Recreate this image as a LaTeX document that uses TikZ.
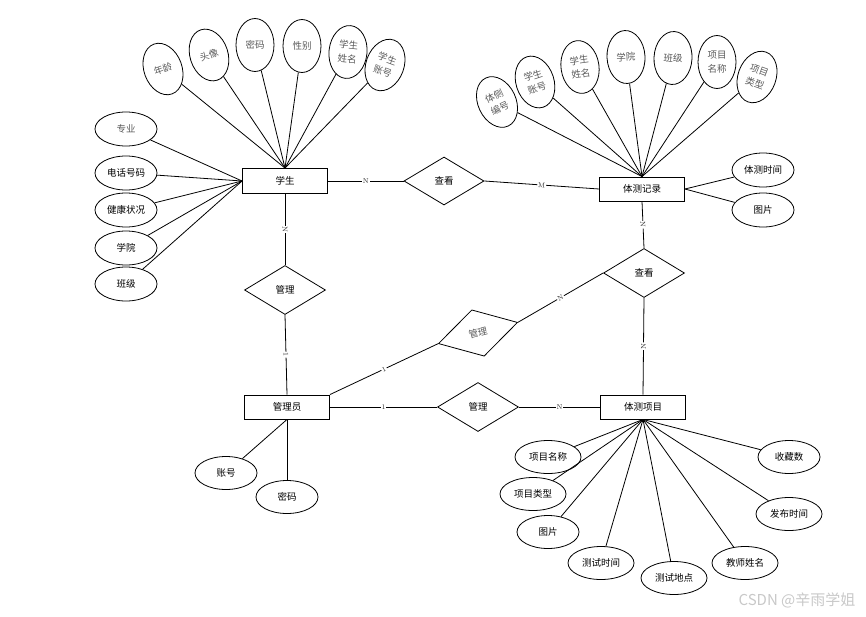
\documentclass[tikz,border=0pt]{standalone}
\usepackage{fontspec}
\newfontfamily\cjk{Noto Sans CJK SC}
\definecolor{AttrGray}{RGB}{90, 90, 90}
\definecolor{MarkGray}{RGB}{40, 40, 40}
\definecolor{WaterGray}{RGB}{200, 200, 200}
\usetikzlibrary{shapes.geometric, positioning}

\begin{document}
\begin{tikzpicture}[x=1pt, y=-1pt,
    entity/.style={draw, line width=0.9pt, rectangle, minimum width=85, minimum height=25, inner sep=0, font=\cjk\fontsize{9.5}{11}\selectfont},
    relation/.style={draw, line width=0.8pt, diamond, minimum width=81, minimum height=49, inner sep=0, font=\cjk\fontsize{9.5}{11}\selectfont},
    attr/.style={draw, line width=0.8pt, ellipse, minimum width=62, minimum height=34, inner sep=0, font=\cjk\fontsize{9.5}{11}\selectfont},
    tallattr/.style={draw, line width=0.8pt, ellipse, minimum width=38, minimum height=53, inner sep=0, align=center, text=AttrGray, font=\cjk\fontsize{9.5}{13.5}\selectfont},
    card/.style={font=\fontsize{7}{7}\selectfont, text=MarkGray, fill=white, inner sep=0.8pt, sloped},
    link/.style={line width=0.8pt}
]
    \useasboundingbox (0,0) rectangle (866,616);

    % entities
    \node[entity] (xs) at (285,181) {学生};
    \node[entity, minimum height=24] (tcjl) at (642,189) {体测记录};
    \node[entity, minimum height=24] (gly) at (287,407) {管理员};
    \node[entity, minimum height=24] (tcxm) at (643,407) {体测项目};

    % relations
    \node[relation, minimum width=80, minimum height=48] (ck1) at (444,181) {查看};
    \node[relation] (ck2) at (644,273) {查看};
    \node[relation] (gl1) at (285,290) {管理};
    \node[relation, minimum width=82, minimum height=48, rotate=15, text=AttrGray] (gl2) at (478,333) {管理};
    \node[relation] (gl3) at (478,407) {管理};

    % student attributes
    \node[tallattr, rotate=20] (nl) at (163,69) {年龄};
    \node[tallattr, rotate=18] (tx) at (209,55) {头像};
    \node[tallattr] (mm) at (255,45) {密码};
    \node[tallattr] (xb) at (302,46) {性别};
    \node[tallattr, rotate=-6] (xm) at (348,52) {学生\\姓名};
    \node[tallattr, rotate=-20] (zh) at (385,65) {学生\\账号};
    \node[attr, text=AttrGray] (zy) at (126,129) {专业};
    \node[attr] (dh) at (126,173) {电话号码};
    \node[attr] (jk) at (126,210) {健康状况};
    \node[attr] (xy) at (126,248) {学院};
    \node[attr] (bj) at (126,284) {班级};
    \foreach \a in {nl, tx, mm, xb, xm, zh}
        \draw[link] (\a) -- (xs.north);
    \foreach \a in {zy, dh, jk, xy, bj}
        \draw[link] (\a) -- (xs.west);

    % record attributes
    \node[tallattr, rotate=25] (bh2) at (497,102) {体侧\\编号};
    \node[tallattr, rotate=18] (zh2) at (535,82) {学生\\账号};
    \node[tallattr, rotate=8] (xm2) at (580,67) {学生\\姓名};
    \node[tallattr, rotate=3] (xy2) at (626,57) {学院};
    \node[tallattr, rotate=-3] (bj2) at (673,58) {班级};
    \node[tallattr] (mc2) at (717,62) {项目\\名称};
    \node[tallattr, rotate=-20] (lx2) at (757,77) {项目\\类型};
    \node[attr] (sj2) at (763,170) {体测时间};
    \node[attr] (tp2) at (763,210) {图片};
    \foreach \a in {bh2, zh2, xm2, xy2, bj2, mc2, lx2}
        \draw[link] (\a) -- (tcjl.north);
    \foreach \a in {sj2, tp2}
        \draw[link] (\a) -- (tcjl.east);

    % admin attributes
    \node[attr, minimum height=33] (zh3) at (226,473) {账号};
    \node[attr, minimum height=33] (mm3) at (287,497) {密码};
    \draw[link] (zh3) -- (gly.south);
    \draw[link] (gly.south) -- (mm3);

    % item attributes
    \node[attr, minimum width=66, minimum height=33] (mc4) at (548,457) {项目名称};
    \node[attr, minimum width=66, minimum height=33] (lx4) at (533,494) {项目类型};
    \node[attr, minimum height=33] (tp4) at (548,532) {图片};
    \node[attr, minimum width=66, minimum height=33] (cs4) at (601,563) {测试时间};
    \node[attr, minimum width=66, minimum height=33] (dd4) at (674,578) {测试地点};
    \node[attr, minimum width=66, minimum height=33] (js4) at (745,563) {教师姓名};
    \node[attr, minimum width=66, minimum height=33] (fb4) at (789,514) {发布时间};
    \node[attr, minimum height=33] (sc4) at (789,457) {收藏数};
    \foreach \a in {mc4, lx4, tp4, cs4, dd4, js4, fb4, sc4}
        \draw[link] (\a) -- (tcxm.south);

    % relationships
    \draw[link] (xs) -- node[card] {N} (ck1);
    \draw[link] (ck1.east) -- node[card] {M} (tcjl.west);
    \draw[link] (tcjl.south) -- node[card] {N} (ck2.north);
    \draw[link] (ck2.south) -- node[card] {N} (tcxm.north);
    \draw[link] (xs.south) -- node[card] {N} (gl1.north);
    \draw[link] (gl1.south) -- node[card] {1} (gly.north);
    \draw[link] (gly.north east) -- node[card] {1} (gl2.west);
    \draw[link] (gl2.east) -- node[card] {N} (ck2.west);
    \draw[link] (gly) -- node[card] {1} (gl3);
    \draw[link] (gl3) -- node[card] {N} (tcxm);

    % watermark
    \node[font=\cjk\fontsize{15}{15}\selectfont, text=WaterGray, inner sep=0] (wm) at (797,600) {CSDN @辛雨学姐};
\end{tikzpicture}
\end{document}
